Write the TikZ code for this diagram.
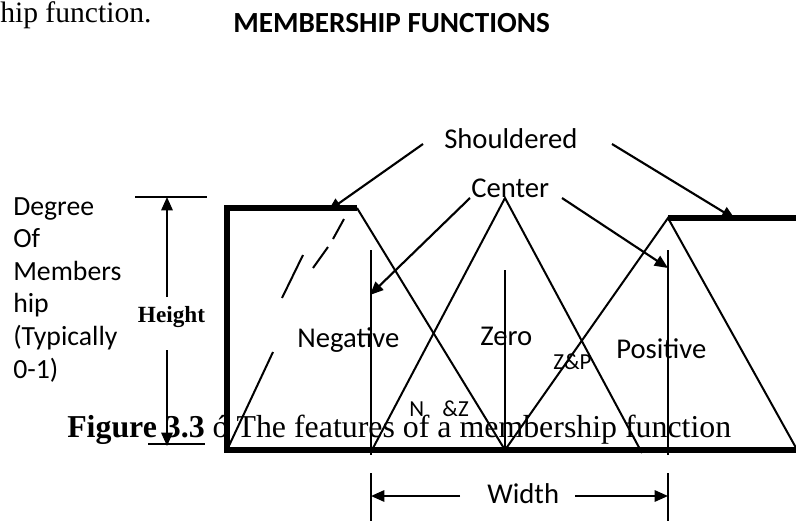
\documentclass[tikz,border=0pt]{standalone}
\usepackage{fontspec}
\setmainfont{Liberation Serif}
\newfontfamily\calfont{Carlito}
\usetikzlibrary{arrows.meta}

\begin{document}
\begin{tikzpicture}[x=0.75pt,y=-0.75pt,
  edgeline/.style={line width=1.5pt},
  axisline/.style={line width=3.8pt,line join=miter},
  ptr/.style={line width=1.6pt,-{Triangle[length=10pt,width=8.5pt]}},
  dimline/.style={line width=1.5pt},
  dimptr/.style={line width=1.5pt,-{Triangle[length=10pt,width=8.5pt]}},
  body/.style={font=\fontsize{23.9}{28}\selectfont,inner sep=0pt,anchor=base west},
  lbl/.style={font=\calfont\fontsize{21.5}{26}\selectfont,inner sep=0pt,anchor=base west},
  small/.style={font=\calfont\fontsize{17.2}{20}\selectfont,inner sep=0pt,anchor=base west},
  side/.style={font=\calfont\fontsize{20.8}{24.5}\selectfont,inner sep=0pt,anchor=base west,align=left}
]
\useasboundingbox (0,0) rectangle (796,521);
\fill[white] (0,0) rectangle (796,521);

% running text and titles
\node[body,font=\fontsize{22.2}{26}\selectfont] (run) at (0,22) {hip function.};
\node[font=\calfont\bfseries\fontsize{21.9}{26}\selectfont,inner sep=0pt,anchor=base west] (title) at (233,32) {MEMBERSHIP FUNCTIONS};

% key points of the membership functions
\coordinate (org) at (227,450);
\coordinate (ytop) at (227,208);
\coordinate (shNeg) at (357,208);
\coordinate (xend) at (800,450);
\coordinate (zL) at (372,450);
\coordinate (zPeak) at (505,198);
\coordinate (zR) at (642,453);
\coordinate (zMid) at (505,450);
\coordinate (pPeak) at (668,218);
\coordinate (pEnd) at (800,455);
\coordinate (shPos) at (800,218);

% degree-of-membership label
\node[side] (deg1) at (13,215) {Degree};
\node[side] (deg2) at (13,247) {Of};
\node[side] (deg3) at (13,280) {Members};
\node[side] (deg4) at (13,312) {hip};
\node[side] (deg5) at (13,345) {(Typically};
\node[side] (deg6) at (13,378) {0-1)};

% height dimension
\coordinate (hTopL) at (135,197);
\coordinate (hTopR) at (207,197);
\coordinate (hBotL) at (148,444);
\coordinate (hBotR) at (205,444);
\coordinate (hTop) at (167,197);
\coordinate (hBot) at (167,446);
\coordinate (hGapA) at (167,297);
\coordinate (hGapB) at (167,350);
\draw[dimline] (hTopL) -- (hTopR);
\draw[dimline] (hBotL) -- (hBotR);
\draw[dimptr] (hGapA) -- (hTop);
\draw[dimptr] (hGapB) -- (hBot);
\node[font=\bfseries\fontsize{17.4}{20}\selectfont,inner sep=0pt,anchor=base] (height) at (171.5,322) {Height};

% caption line
\node[body] (cap) at (67,437) {\textbf{Figure 3.3} ó The features of a membership function};

% negative set: dashed rising side
\draw[edgeline] (344,219) -- (333,239);
\draw[edgeline] (328,247) -- (313,268);
\draw[edgeline] (303,255) -- (282,298);
\draw[edgeline] (273,352) -- (org);

% centre lines
\draw[edgeline] (371,250) -- (371,455);
\draw[edgeline] (505,270) -- (505,452);
\draw[edgeline] (668,250) -- (668,455);

% triangle sides
\draw[edgeline] (shNeg) -- (zMid);
\draw[edgeline] (zL) -- (zPeak) -- (zR);
\draw[edgeline] (zMid) -- (pPeak) -- (pEnd);

% shouldered axes
\draw[axisline] (shNeg) -- (ytop) -- (org) -- (xend);
\draw[axisline] (pPeak) -- (shPos);

% set labels
\node[lbl] (neg) at (297,347) {Negative};
\node[lbl] (zero) at (480,345) {Zero};
\node[lbl] (pos) at (616,358) {Positive};
\node[small] (zp) at (553,369) {Z\&P};
\node[small] (nz) at (409,416) {N\hspace{0.8em}\&Z};

% callouts
\node[lbl] (shd) at (444,148) {Shouldered};
\node[lbl] (ctr) at (471,197) {Center};
\coordinate (shdA) at (423,144);
\coordinate (shdAtip) at (328,211);
\coordinate (shdB) at (612,144);
\coordinate (shdBtip) at (735,219);
\coordinate (ctrA) at (470,198);
\coordinate (ctrAtip) at (370,295);
\coordinate (ctrB) at (562,198);
\coordinate (ctrBtip) at (668,268);
\draw[ptr] (shdA) -- (shdAtip);
\draw[ptr] (shdB) -- (shdBtip);
\draw[ptr] (ctrA) -- (ctrAtip);
\draw[ptr] (ctrB) -- (ctrBtip);

% width dimension
\coordinate (wL) at (371,473);
\coordinate (wLb) at (371,521);
\coordinate (wR) at (668,473);
\coordinate (wRb) at (668,521);
\draw[dimline] (wL) -- (wLb);
\draw[dimline] (wR) -- (wRb);
\node[lbl] (width) at (487,503) {Width};
\coordinate (wArrL) at (460,496);
\coordinate (wTipL) at (371,496);
\coordinate (wArrR) at (575,496);
\coordinate (wTipR) at (668,496);
\draw[dimptr] (wArrL) -- (wTipL);
\draw[dimptr] (wArrR) -- (wTipR);
\end{tikzpicture}
\end{document}
